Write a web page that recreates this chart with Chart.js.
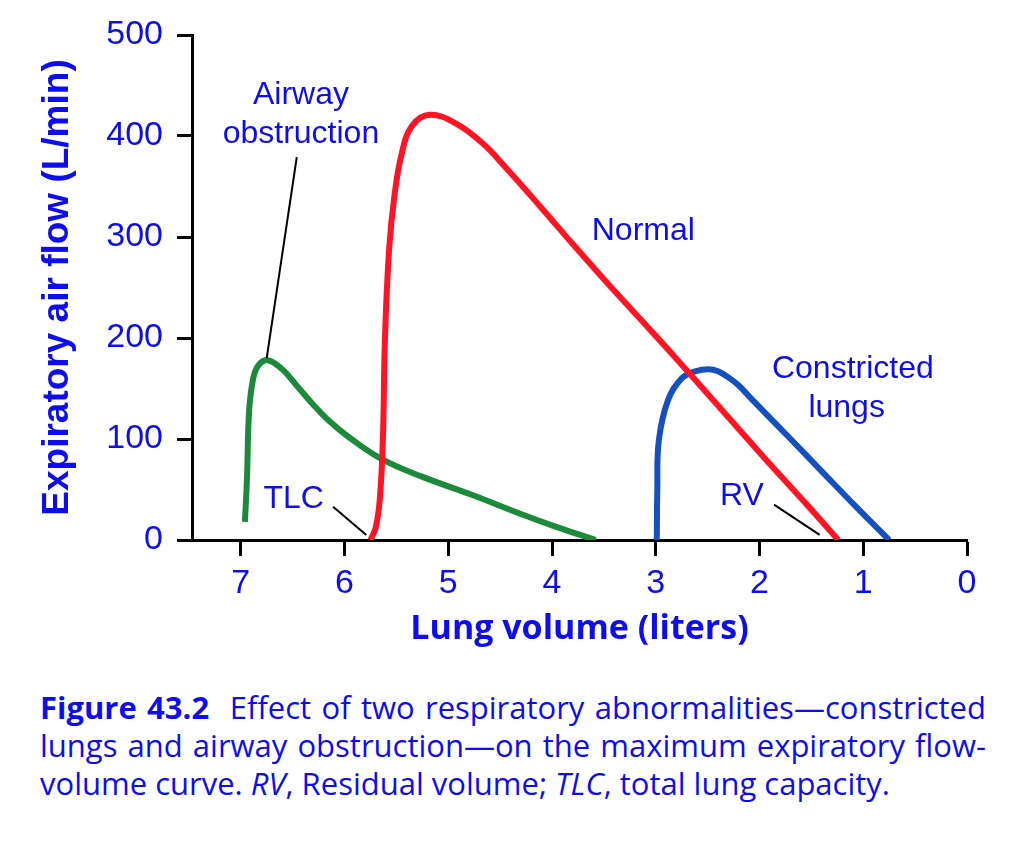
<!DOCTYPE html>
<html>
<head>
<meta charset="utf-8">
<script src="https://cdn.jsdelivr.net/npm/chart.js@4/dist/chart.umd.min.js"></script>
<style>
  html, body { margin: 0; padding: 0; background: #fff; }
  #wrap { position: relative; width: 1024px; height: 842px; background: #fff; }
  #myChart { position: absolute; left: 0; top: 0; }
  .cap {
    position: absolute; left: 40px; width: 946px;
    font-family: "Open Sans", sans-serif; font-size: 31px; line-height: 38px;
    color: #0d0df0;
  }
  .just { text-align: justify; text-align-last: justify; }
  .cap b { font-weight: 700; }
</style>
</head>
<body>
<div id="wrap">
  <canvas id="myChart" width="1024" height="670"></canvas>
  <div class="cap just" style="top:688px"><b>Figure 43.2</b>&nbsp; Effect of two respiratory abnormalities—constricted</div>
  <div class="cap just" style="top:726px">lungs and airway obstruction—on the maximum expiratory flow-</div>
  <div class="cap" style="top:764px">volume curve. <i>RV</i>, Residual volume; <i>TLC</i>, total lung capacity.</div>
</div>
<script>
const xTicks = [7, 6, 5, 4, 3, 2, 1, 0];
const yTicks = [0, 100, 200, 300, 400, 500];

// lung volume (L) / expiratory flow (L/min)
const normalVol = [5.75, 5.70, 5.66, 5.63, 5.61, 5.57, 5.52, 5.45, 5.35, 5.18, 4.92, 4.66, 4.44, 4.12, 3.80, 3.48, 3.16, 2.84, 2.52, 2.20, 1.88, 1.56, 1.24];
const normalFlow = [0, 12, 40, 100, 200, 288, 340, 382, 410, 421, 412, 392, 368, 331, 293, 256, 220, 184, 147, 110, 73, 37, 0];

const obstructVol = [6.96, 6.94, 6.92, 6.88, 6.83, 6.74, 6.60, 6.47, 6.31, 6.15, 5.96, 5.64, 5.26, 4.78, 4.28, 3.96, 3.58];
const obstructFlow = [18, 61, 127, 160, 173, 178, 169, 154, 135, 118, 102, 80, 63, 45, 25, 13, 0];

const constrictVol = [2.99, 2.985, 2.97, 2.88, 2.75, 2.62, 2.49, 2.40, 2.30, 2.20, 2.08, 1.70, 1.40, 1.08, 0.75];
const constrictFlow = [0, 50, 99, 139, 160, 167, 169, 167, 161, 153, 140, 100, 68, 34, 0];

const blueText = "#0d0df0";

function toPoints(vol, flow) {
    return vol.map((v, i) => ({ x: v, y: flow[i] }));
}

const notes = [
    { text: "Airway", x: 6.42, y: 440 },
    { text: "obstruction", x: 6.42, y: 402 },
    { text: "TLC", x: 6.49, y: 40 },
    { text: "Normal", x: 3.12, y: 306 },
    { text: "Constricted", x: 1.10, y: 169 },
    { text: "lungs", x: 1.16, y: 131 },
    { text: "RV", x: 2.17, y: 43 },
];
const leaders = [
    [6.46, 379, 6.75, 180],
    [6.11, 33, 5.79, 5],
    [1.86, 35, 1.42, 5],
];

const labelPlugin = {
    id: "labels",
    afterDraw(chart) {
        const { ctx, scales: { x, y } } = chart;
        ctx.save();
        ctx.strokeStyle = "#000";
        ctx.lineWidth = 2;
        leaders.forEach(l => {
            ctx.beginPath();
            ctx.moveTo(x.getPixelForValue(l[0]), y.getPixelForValue(l[1]));
            ctx.lineTo(x.getPixelForValue(l[2]), y.getPixelForValue(l[3]));
            ctx.stroke();
        });
        ctx.fillStyle = blueText;
        ctx.font = "32px 'Liberation Sans', Arial, sans-serif";
        ctx.textAlign = "center";
        ctx.textBaseline = "middle";
        notes.forEach(n => {
            ctx.fillText(n.text, x.getPixelForValue(n.x), y.getPixelForValue(n.y));
        });
        ctx.restore();
    },
};

const lineStyle = {
    borderWidth: 6,
    pointRadius: 0,
    tension: 0.4,
    fill: false,
};

const config = {
    type: "line",
    data: {
        datasets: [
            { label: "Normal", data: toPoints(normalVol, normalFlow), borderColor: "#ff1424", ...lineStyle },
            { label: "Airway obstruction", data: toPoints(obstructVol, obstructFlow), borderColor: "#1c8a3a", ...lineStyle },
            { label: "Constricted lungs", data: toPoints(constrictVol, constrictFlow), borderColor: "#1550c0", ...lineStyle },
        ],
    },
    options: {
        responsive: false,
        animation: false,
        layout: {
            padding: { left: 36, top: 35, right: 57, bottom: 20 },
        },
        scales: {
            x: {
                type: "linear",
                reverse: true,
                min: 0,
                max: 7.47,
                afterBuildTicks: s => { s.ticks = xTicks.map(v => ({ value: v })); },
                afterFit: s => { s.height = 110; },
                border: { color: "#000", width: 3 },
                grid: {
                    drawOnChartArea: false,
                    tickColor: "#000",
                    tickWidth: 3,
                    tickLength: 16,
                },
                ticks: {
                    color: blueText,
                    font: { family: "Liberation Sans", size: 34 },
                    padding: 7,
                    maxRotation: 0,
                },
                title: {
                    display: true,
                    text: "Lung volume (liters)",
                    color: blueText,
                    font: { family: "Open Sans", weight: "bold", size: 34 },
                    padding: { top: 0, bottom: 0 },
                },
            },
            y: {
                min: 0,
                max: 500,
                afterBuildTicks: s => { s.ticks = yTicks.map(v => ({ value: v })); },
                afterFit: s => { s.width = 156; },
                border: { color: "#000", width: 3 },
                grid: {
                    drawOnChartArea: false,
                    tickColor: "#000",
                    tickWidth: 3,
                    tickLength: 15,
                },
                ticks: {
                    color: blueText,
                    font: { family: "Liberation Sans", size: 34 },
                    padding: 14,
                },
                title: {
                    display: true,
                    text: "Expiratory air flow (L/min)",
                    color: blueText,
                    font: { family: "Liberation Sans", weight: "bold", size: 37 },
                    padding: { top: 0, bottom: 0 },
                },
            },
        },
        plugins: {
            legend: { display: false },
            tooltip: { enabled: false },
        },
    },
    plugins: [labelPlugin],
};

const myChart = new Chart(document.getElementById("myChart").getContext("2d"), config);
</script>
</body>
</html>
